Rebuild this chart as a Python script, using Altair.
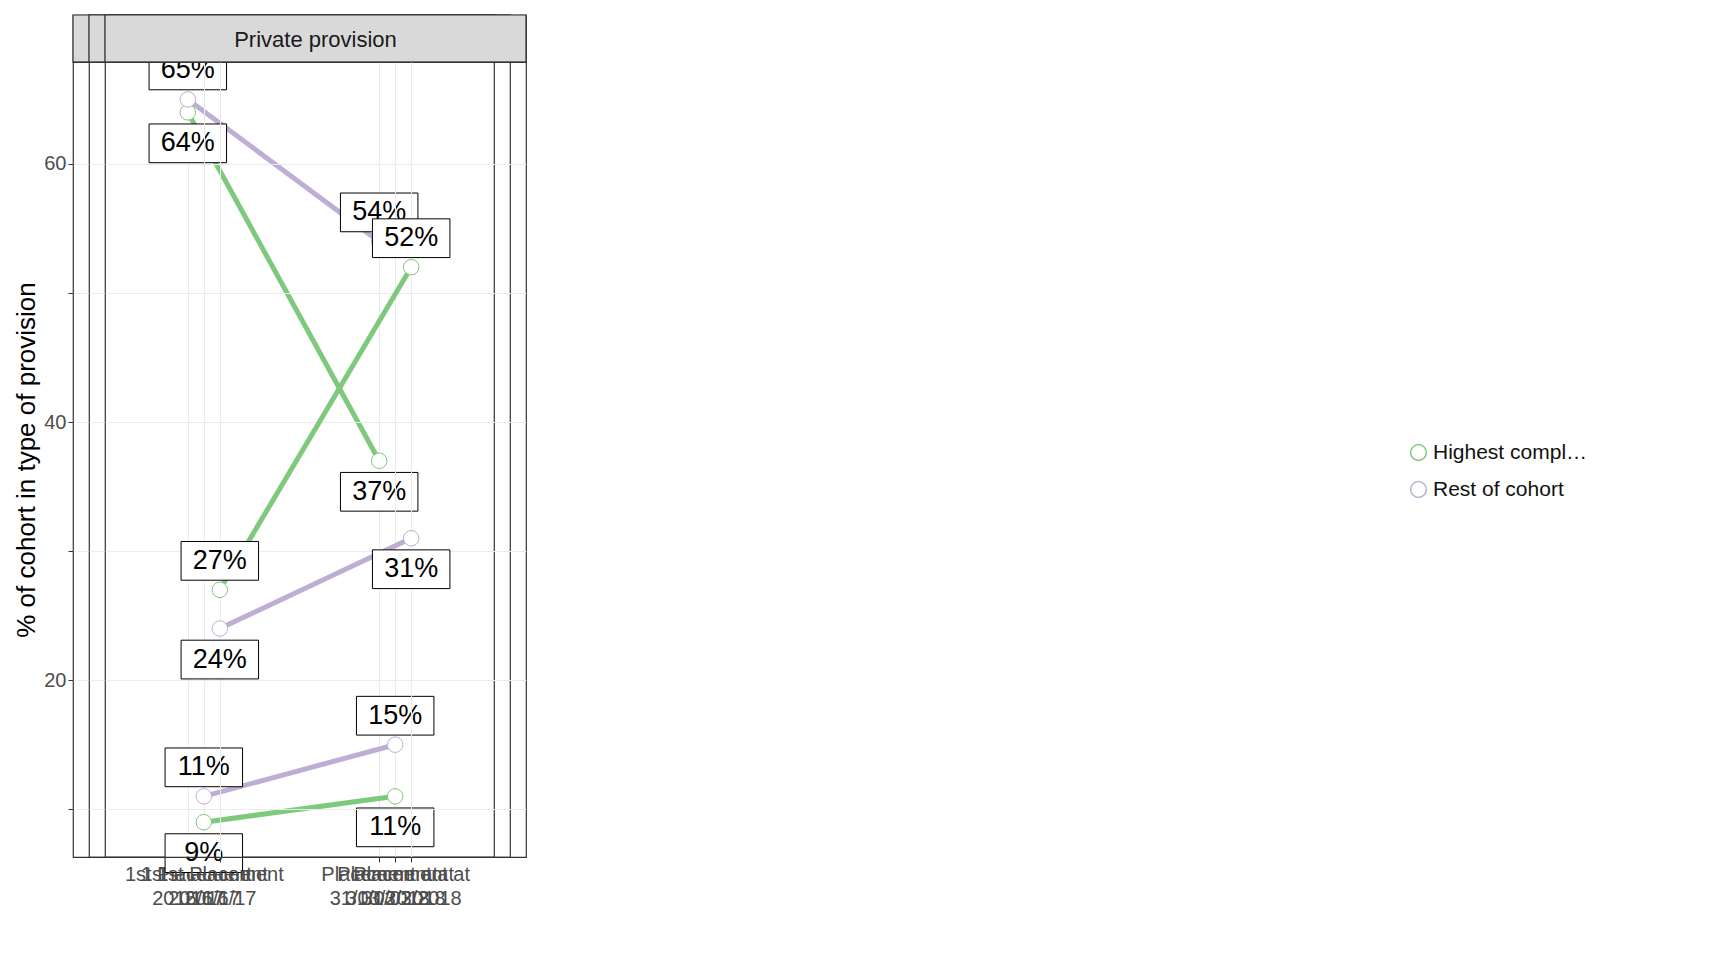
import altair as alt
import pandas as pd

panels = ["LA/public provision", "Other", "Private provision"]
stages = ["1st Placement|2016/17", "Placement at|31/03/2018"]
groups = ["Highest complexity", "Rest of cohort"]
highest = {"LA/public provision": [64, 37], "Other": [9, 11], "Private provision": [27, 52]}
rest = {"LA/public provision": [65, 54], "Other": [11, 15], "Private provision": [24, 31]}
colors = ["#7fc97f", "#beaed4"]

rows = []
for p in panels:
    for i, s in enumerate(stages):
        h, r = highest[p][i], rest[p][i]
        rows.append(dict(panel=p, stage=s, group=groups[0], value=h, up=h >= r))
        rows.append(dict(panel=p, stage=s, group=groups[1], value=r, up=r > h))
df = pd.DataFrame(rows)
df["label"] = df["value"].astype(str) + "%"

W, H, SH = 421, 795, 47
color = alt.Color("group:N", scale=alt.Scale(domain=groups, range=colors),
                  legend=alt.Legend(title=None, symbolType="circle", symbolFillColor="white",
                                    symbolStrokeWidth=1.5, symbolSize=250, labelFontSize=21,
                                    labelFont="Liberation Sans", labelColor="#111",
                                    rowPadding=14, orient="none", legendX=3 * W + 32 + 40,
                                    legendY=SH + 380))
x = alt.X("stage:N", sort=stages, scale=alt.Scale(type="point", padding=0.6),
          axis=alt.Axis(title=None, labelExpr="split(datum.label, '|')", labelAngle=0,
                        labelFontSize=20, labelColor="#4d4d4d", labelFont="Liberation Sans",
                        grid=True, gridColor="#ebebeb", tickColor="#333", domain=False,
                        labelLineHeight=24))


def panel(p, first):
    d = df[df.panel == p]
    y = alt.Y("value:Q", scale=alt.Scale(domain=[6.3, 67.9], nice=False, zero=False),
              axis=alt.Axis(title="% of cohort in type of provision" if first else None,
                            values=[10, 20, 30, 40, 50, 60],
                            labelExpr="datum.value % 20 == 0 ? datum.label : ''",
                            labels=first, ticks=first, domain=False,
                            labelFontSize=20, labelColor="#4d4d4d", titleFontSize=26,
                            titleFontWeight="normal", titleFont="Liberation Sans",
                            labelFont="Liberation Sans", gridColor="#ebebeb", tickColor="#333"))
    base = alt.Chart(d).encode(x=x, y=y)
    line = base.mark_line(strokeWidth=5).encode(color=color, detail="group:N")
    pts = base.mark_point(filled=False, fill="white", fillOpacity=1, size=240,
                          strokeWidth=1, opacity=1).encode(color=color)
    up = base.transform_filter("datum.up")
    dn = base.transform_filter("!datum.up")
    box = dict(shape="M-1,-0.5H1V0.5H-1Z", size=6000, filled=True, fill="white",
               stroke="black", strokeWidth=1, opacity=1)
    lab = dict(fontSize=27, font="Liberation Sans", color="black")
    layers = [line, pts,
              up.mark_point(yOffset=-29, **box), up.mark_text(dy=-29, **lab).encode(text="label:N"),
              dn.mark_point(yOffset=31, **box), dn.mark_text(dy=31, **lab).encode(text="label:N")]
    main = alt.layer(*layers).properties(width=W, height=H)
    strip = alt.layer(
        alt.Chart(pd.DataFrame({"t": [p]})).mark_rect(fill="#d9d9d9", stroke="#333", strokeWidth=1.2)
        .encode(x=alt.value(0), x2=alt.value(W), y=alt.value(0), y2=alt.value(SH)),
        alt.Chart(pd.DataFrame({"t": [p]})).mark_text(fontSize=22, font="Liberation Sans", color="#1a1a1a")
        .encode(text="t:N", x=alt.value(W / 2), y=alt.value(SH / 2 + 1)),
    ).properties(width=W, height=SH)
    return alt.vconcat(strip, main, spacing=0, bounds="flush")


chart = alt.hconcat(*[panel(p, i == 0) for i, p in enumerate(panels)], spacing=16,
                    bounds="flush").configure_view(stroke="#333", strokeWidth=1.2)
chart.save("out.html", embed_options={"renderer": "svg", "actions": False})
